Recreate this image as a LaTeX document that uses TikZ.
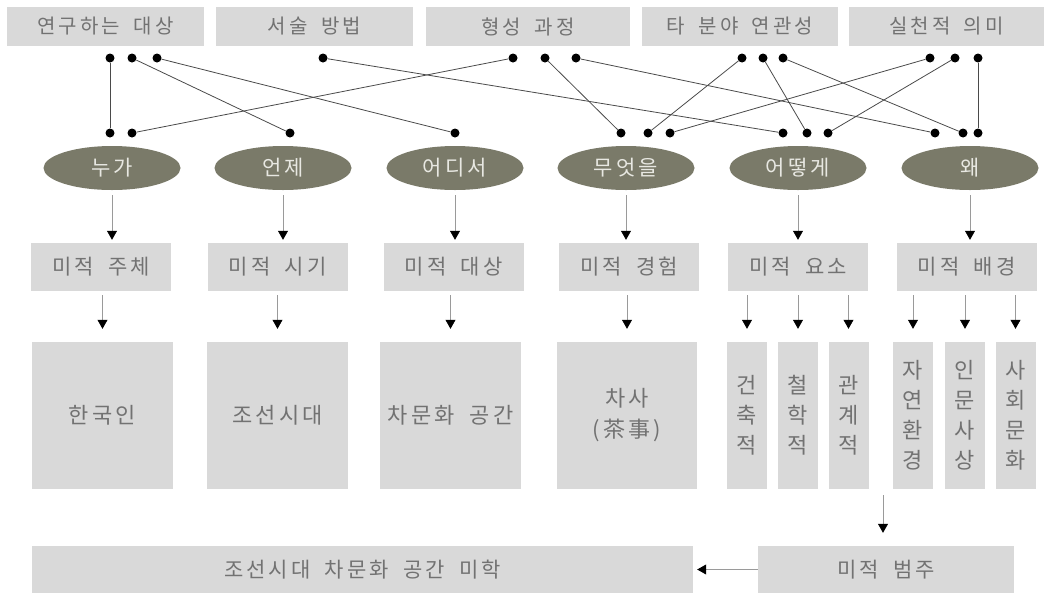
\documentclass[tikz,border=0pt]{standalone}
\usepackage{fontspec}
\setmainfont{Noto Sans CJK KR}[LetterSpace=15,WordSpace=1.8]
\usetikzlibrary{arrows.meta,calc,shapes.geometric}
\definecolor{boxgray}{HTML}{D9D9D9}
\definecolor{txtgray}{HTML}{727272}
\definecolor{ellfill}{HTML}{7A7A69}
\definecolor{elltxt}{HTML}{E8E8E2}
\definecolor{linegray}{HTML}{4A4A4A}
\definecolor{arrgray}{HTML}{9A9A9A}
\begin{document}
\begin{tikzpicture}[x=1pt,y=-1pt,
  gbox/.style={fill=boxgray,draw=none,inner sep=0pt,text=txtgray,font=\fontsize{21}{30}\selectfont,align=center},
  topbox/.style={gbox,minimum height=39pt,font=\fontsize{20}{30}\selectfont},
  midbox/.style={gbox,minimum height=48pt,minimum width=140pt},
  bigbox/.style={gbox,minimum height=147pt,minimum width=141pt,font=\fontsize{22}{31}\selectfont},
  thinbox/.style={gbox,minimum height=147pt,minimum width=40pt,font=\fontsize{22}{30}\selectfont},
  ell/.style={ellipse,fill=ellfill,draw=none,inner sep=0pt,minimum width=137pt,minimum height=44pt,text=elltxt,font=\fontsize{21}{24}\selectfont},
  dotn/.style={circle,fill=black,draw=none,inner sep=0pt,minimum size=9pt},
  link/.style={draw=linegray,line width=0.8pt},
  arr/.style={draw=arrgray,line width=0.7pt,-{Triangle[width=10pt,length=9pt,color=black]}}
]
\useasboundingbox (0,0) rectangle (1052,595);
% top boxes
\node[topbox,minimum width=197pt] (t1) at (105.5,26.5) {연구하는 대상};
\node[topbox,minimum width=197pt] (t2) at (314.5,26.5) {서술 방법};
\node[topbox,minimum width=204pt] (t3) at (528,26.5) {형성 과정};
\node[topbox,minimum width=196pt] (t4) at (740,26.5) {타 분야 연관성};
\node[topbox,minimum width=195pt] (t5) at (946.5,26.5) {실천적 의미};
% top dots
\node[dotn] (a1) at (110,58) {};
\node[dotn] (a2) at (132,58) {};
\node[dotn] (a3) at (157,58) {};
\node[dotn] (b1) at (323,58) {};
\node[dotn] (c1) at (513,58) {};
\node[dotn] (c2) at (545,58) {};
\node[dotn] (c3) at (576,58) {};
\node[dotn] (d1) at (742,58) {};
\node[dotn] (d2) at (763,58) {};
\node[dotn] (d3) at (783,58) {};
\node[dotn] (e1) at (930,58) {};
\node[dotn] (e2) at (955,58) {};
\node[dotn] (e3) at (978,58) {};
% bottom dots
\node[dotn] (p1) at (110,133) {};
\node[dotn] (p2) at (132,133) {};
\node[dotn] (q1) at (290,133) {};
\node[dotn] (r1) at (455,133) {};
\node[dotn] (s1) at (621,133) {};
\node[dotn] (s2) at (648,133) {};
\node[dotn] (s3) at (670,133) {};
\node[dotn] (u1) at (783,133) {};
\node[dotn] (u2) at (807,133) {};
\node[dotn] (u3) at (828,133) {};
\node[dotn] (w1) at (935,133) {};
\node[dotn] (w2) at (963,133) {};
\node[dotn] (w3) at (978,133) {};
% links
\draw[link] (a1) -- (p1);
\draw[link] (a2) -- (q1);
\draw[link] (a3) -- (r1);
\draw[link] (b1) -- (u1);
\draw[link] (c1) -- (p2);
\draw[link] (c2) -- (s1);
\draw[link] (c3) -- (w1);
\draw[link] (d1) -- (s2);
\draw[link] (d2) -- (u2);
\draw[link] (d3) -- (w2);
\draw[link] (e1) -- (s3);
\draw[link] (e2) -- (u3);
\draw[link] (e3) -- (w3);
% ellipses
\node[ell] (E1) at (112,168) {누가};
\node[ell] (E2) at (283,168) {언제};
\node[ell] (E3) at (455,168) {어디서};
\node[ell] (E4) at (626,168) {무엇을};
\node[ell] (E5) at (798,168) {어떻게};
\node[ell] (E6) at (970,168) {왜};
% row 2
\node[midbox] (m1) at (101,267) {미적 주체};
\node[midbox] (m2) at (277.5,267) {미적 시기};
\node[midbox] (m3) at (453.5,267) {미적 대상};
\node[midbox] (m4) at (629,267) {미적 경험};
\node[midbox] (m5) at (798,267) {미적 요소};
\node[midbox] (m6) at (966.5,267) {미적 배경};
% row 3
\node[bigbox] (k1) at (102.5,415.5) {한국인};
\node[bigbox] (k2) at (277.5,415.5) {조선시대};
\node[bigbox] (k3) at (450.5,415.5) {차문화 공간};
\node[bigbox,minimum width=140pt] (k4) at (627,415.5) {차사\\(茶事)};
\node[thinbox] (n1) at (747,415.5) {건\\축\\적};
\node[thinbox] (n2) at (798,415.5) {철\\학\\적};
\node[thinbox] (n3) at (848.5,415.5) {관\\계\\적};
\node[thinbox] (n4) at (913,415.5) {자\\연\\환\\경};
\node[thinbox] (n5) at (965,415.5) {인\\문\\사\\상};
\node[thinbox] (n6) at (1015.5,415.5) {사\\회\\문\\화};
% bottom
\node[gbox,minimum width=661pt,minimum height=47pt] (fin) at (362.5,569.5) {조선시대 차문화 공간 미학};
\node[gbox,minimum width=256pt,minimum height=47pt] (cat) at (886,569.5) {미적 범주};
\coordinate (c0) at (883,489);
% arrows
\foreach \e/\m in {E1/m1,E2/m2,E3/m3,E4/m4,E5/m5,E6/m6}
  \draw[arr,shorten <=5pt,shorten >=3pt] (\e.south) -- (\e.south |- \m.north);
\foreach \m/\k in {m1/k1,m2/k2,m3/k3,m4/k4}
  \draw[arr,shorten <=4pt,shorten >=13pt] (\k.north |- \m.south) -- (\k.north);
\foreach \n in {n1,n2,n3}
  \draw[arr,shorten <=4pt,shorten >=13pt] (\n.north |- m5.south) -- (\n.north);
\foreach \n in {n4,n5,n6}
  \draw[arr,shorten <=4pt,shorten >=13pt] (\n.north |- m6.south) -- (\n.north);
\draw[arr,shorten <=6pt,shorten >=13pt] (c0) -- (c0 |- cat.north);
\draw[arr,shorten >=4pt] (cat.west) -- (fin.east);
\end{tikzpicture}
\end{document}
